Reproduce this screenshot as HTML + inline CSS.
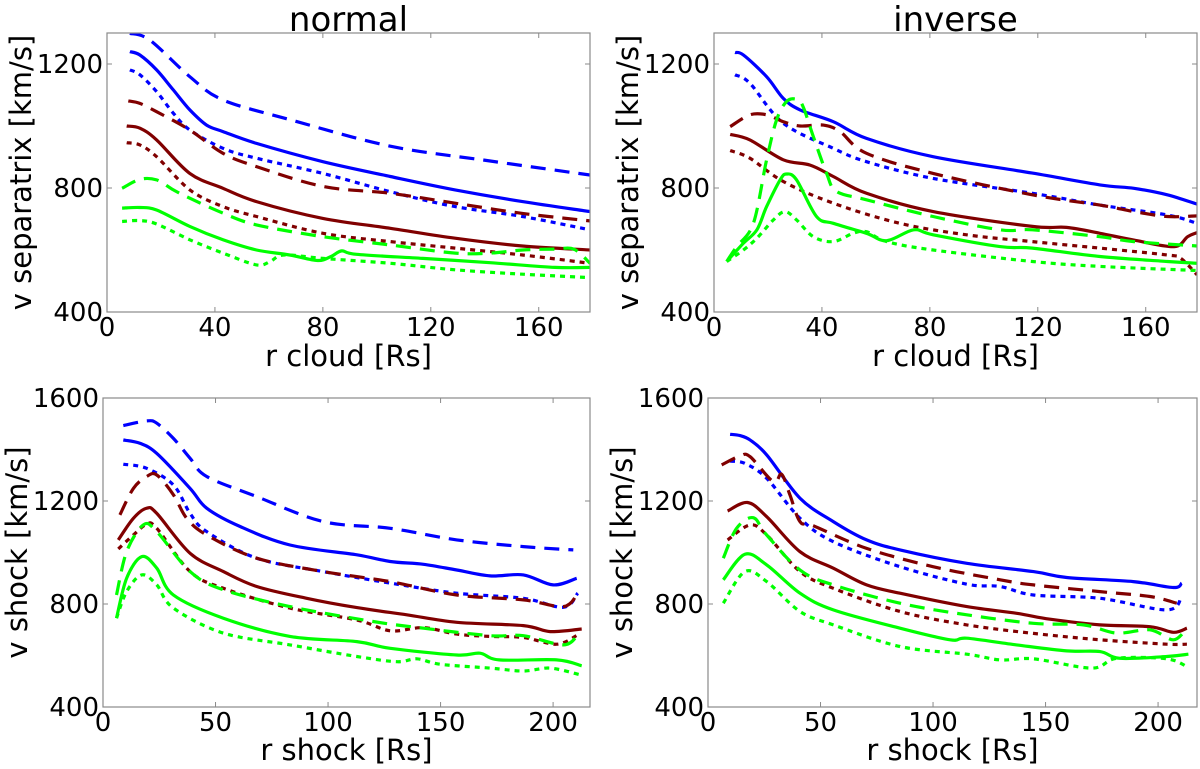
<!DOCTYPE html>
<html><head><meta charset="utf-8"><style>
html,body{margin:0;padding:0;background:#fff;}
svg{display:block;font-family:"DejaVu Sans","Liberation Sans",sans-serif;}
</style></head><body>
<svg id="fig" width="1200" height="769" viewBox="0 0 1200 769" xmlns="http://www.w3.org/2000/svg"></svg>
<script>
// ---- data (x in Rs, v in km/s) ----
const tl_blue_dash=[[8.5,1299],[15.9,1277],[30.7,1159],[43,1084],[68,1020],[105,935],[142,887],[179,842]];
const tl_blue_solid=[[8.5,1240],[12.2,1229],[18.4,1181],[24.6,1116],[30.7,1052],[36.9,1003],[43,982],[55.4,944],[80,885],[105,837],[129,794],[154,756],[179,724]];
const tl_blue_dot=[[8.5,1181],[12.2,1165],[18.4,1111],[24.6,1041],[30.7,987],[43,928],[55.4,896],[80,847],[105,788],[129,740],[154,708],[179,665]];
const tl_red_dash=[[7.9,1081],[12.2,1073],[18.4,1046],[30.7,987],[43,912],[55.4,869],[80,805],[105,783],[129,751],[154,718],[179,694]];
const tl_red_solid=[[7.3,1000],[12.2,993],[18.4,955],[30.7,847],[43,799],[55.4,756],[80,702],[105,670],[129,638],[154,613],[179,600]];
const tl_red_dot=[[7.3,946],[12.2,939],[18.4,901],[30.7,794],[43,740],[55.4,708],[80,654],[105,627],[129,606],[154,584],[179,557]];
const tl_green_dash=[[5.6,799],[12.2,828],[18.4,826],[24.6,794],[30.7,767],[43,719],[55.4,681],[80,643],[105,616],[129,590],[142,590],[154,600],[166,603],[173,603],[179,557]];
const tl_green_solid=[[5.6,735],[12.2,737],[18.4,729],[30.7,676],[43,633],[55.4,600],[67.7,584],[78,566],[83,579],[87,597],[92.5,586],[117,573],[142,559],[166,544],[179,544]];
const tl_green_dot=[[5.6,692],[12.2,695],[18.4,684],[30.7,633],[43,590],[55.4,552],[60.5,563],[65.6,584],[80,573],[105,557],[129,536],[154,522],[179,511]];

const tr_blue_solid=[[7.8,1237],[10.9,1229],[19.5,1159],[25.7,1089],[31.9,1052],[44.2,1014],[56.5,960],[81.2,901],[118,848],[143,810],[155.6,799],[168,778],[179,748]];
const tr_blue_dot=[[7.8,1165],[13.3,1138],[25.7,1009],[44.2,928],[56.5,885],[81.2,831],[118,783],[143,745],[168,713],[179,686]];
const tr_red_dash=[[6,998],[13.3,1036],[19.5,1036],[25.7,1014],[31.9,1000],[40.5,1003],[46.7,982],[56.5,912],[81.2,847],[118,778],[143,745],[155.6,724],[168,708],[179,710]];
const tr_red_solid=[[6,973],[13.3,955],[25.7,891],[35.6,874],[44.2,837],[56.5,783],[81.2,724],[118,676],[130.6,673],[143,654],[155.6,632],[170.5,611],[175.5,643],[179,656]];
const tr_red_dot=[[6,921],[13.3,896],[25.7,821],[44.2,751],[68.9,686],[93.6,649],[118,627],[143,606],[168,584],[173,573],[179,520]];
const tr_green_dash=[[4.7,563],[8.4,611],[14.6,686],[19.5,891],[23.2,1020],[26.9,1079],[30.6,1086],[33,1063],[36.8,966],[41.7,848],[45.4,789],[56.5,762],[81.2,708],[106,665],[118,665],[143,643],[155.6,627],[179,613]];
const tr_green_solid=[[4.7,563],[10.9,622],[15.9,665],[19.5,740],[24.5,826],[26.9,845],[30.6,826],[38,708],[44.2,686],[56.5,654],[64,630],[74,665],[81.2,649],[106,611],[118,606],[143,579],[168,563],[179,557]];
const tr_green_dot=[[4.7,563],[10.9,600],[15.9,638],[22,697],[26.3,724],[30.6,697],[36.8,643],[44.2,627],[51.6,654],[56.5,659],[64,627],[81.2,600],[118,563],[143,547],[179,534]];

const bl_blue_dash=[[9,1493],[19.4,1511],[23.9,1502],[31.3,1443],[38.7,1366],[46.1,1295],[68.3,1217],[97.9,1120],[127.6,1094],[157.2,1049],[186.8,1023],[209,1010]];
const bl_blue_solid=[[9,1437],[16.4,1424],[23.9,1385],[38.7,1249],[46.1,1172],[60.9,1101],[83.1,1029],[112.8,991],[127.6,965],[142.4,954],[157.2,932],[172,909],[186.8,913],[200,874],[210.5,900]];
const bl_blue_dot=[[9,1343],[19.4,1327],[31.3,1262],[38.7,1152],[46.1,1081],[68.3,978],[97.9,926],[127.6,881],[157.2,842],[186.8,822],[204.6,787],[211,842]];
const bl_red_dash=[[7.5,1146],[13.5,1249],[19.4,1295],[23.9,1301],[31.3,1224],[37.2,1133],[46.1,1068],[68.3,978],[97.9,926],[127.6,887],[157.2,835],[186.8,816],[204.6,790],[211,842]];
const bl_red_solid=[[6.8,1049],[13.5,1133],[19.4,1172],[23.9,1152],[38.7,997],[53.5,926],[68.3,868],[90.5,822],[112.8,786],[135,758],[157.2,729],[186.8,716],[198.7,693],[212.7,703]];
const bl_red_dot=[[6.8,1014],[13.5,1068],[19.4,1110],[23.9,1094],[38.7,926],[53.5,861],[83.1,784],[112.8,738],[127.6,696],[142.4,708],[157.2,683],[172,674],[186.8,670],[201.6,644],[211,680]];
const bl_green_dash=[[6,835],[10.5,1003],[17.9,1107],[23.9,1081],[38.7,926],[53.5,855],[83.1,790],[120,732],[142.4,706],[172,677],[186.8,677],[204.6,641],[211,680]];
const bl_green_solid=[[6,745],[10.5,900],[17.2,984],[23.9,939],[31.3,835],[53.5,745],[83.1,674],[112.8,654],[127.6,628],[157.2,602],[167.5,609],[176,583],[201.6,583],[212.7,560]];
const bl_green_dot=[[6,745],[10.5,848],[17.2,913],[23.9,874],[31.3,784],[53.5,687],[83.1,641],[112.8,596],[130.6,576],[139.5,587],[149.9,566],[172,551],[186.8,540],[198.7,551],[212,525]];

const br_blue_solid=[[9.8,1459],[14.2,1454],[18.7,1437],[26.1,1379],[40.9,1211],[55.7,1120],[70.5,1049],[85.3,1010],[115,958],[144.6,926],[159.4,903],[189,887],[206.8,864],[210.5,881]];
const br_blue_dot=[[9.8,1355],[16.4,1346],[26.1,1288],[40.9,1133],[55.7,1042],[85.3,945],[115,877],[129.8,868],[144.6,835],[174.2,822],[203.9,777],[210.5,829]];
const br_red_dash=[[6.1,1340],[14.2,1375],[18.7,1372],[29,1275],[32.7,1304],[36.4,1224],[40.9,1120],[46.8,1104],[70.5,1016],[100,945],[129.8,894],[144.6,874],[174.2,848],[196.4,829],[208.3,803]];
const br_red_solid=[[8.7,1161],[17.6,1194],[26.1,1139],[40.9,1003],[55.7,939],[70.5,874],[85.3,842],[115,790],[137.2,764],[152,741],[174.2,719],[196.4,712],[206.8,690],[212.8,706]];
const br_red_dot=[[8.7,1049],[18.7,1107],[26.1,1068],[40.9,926],[55.7,861],[85.3,771],[115,719],[144.6,686],[174.2,661],[203.9,644],[212.8,644]];
const br_green_dash=[[6.8,978],[12.7,1094],[20.1,1135],[26.1,1068],[40.9,932],[55.7,874],[85.3,803],[115,758],[144.6,725],[166.8,719],[181.6,687],[196.4,700],[206.8,661],[212.8,706]];
const br_green_solid=[[6.8,894],[16.4,993],[26.1,952],[40.9,842],[55.7,777],[85.3,706],[107.6,661],[115,667],[137.2,641],[159.4,618],[174.2,615],[183.1,589],[203.9,596],[213.5,605]];
const br_green_dot=[[6.8,803],[16.4,926],[26.1,887],[40.9,771],[55.7,719],[85.3,635],[115,605],[129.8,583],[144.6,587],[170.5,551],[181.6,589],[203.9,587],[213.5,553]];

const topXTicks=[0,40,80,120,160];
const topYTicks=[400,800,1200];
const botXTicks=[0,50,100,150,200];
const botYTicks=[400,800,1200,1600];

// ---- drawing ----
const NS="http://www.w3.org/2000/svg";
const svg=document.getElementById('fig');
function mk(tag,attrs,parent){const e=document.createElementNS(NS,tag);for(const k in attrs)e.setAttribute(k,attrs[k]);(parent||svg).appendChild(e);return e;}
const COL={blue:'#0000ff',red:'#800000',green:'#00ff00'};
const DASH={solid:'none',dash:'15 9',dot:'5 5'};
function smooth(pts){
  let d='M'+pts[0][0].toFixed(1)+','+pts[0][1].toFixed(1);
  for(let i=0;i<pts.length-1;i++){
    const p0=pts[i-1]||pts[i],p1=pts[i],p2=pts[i+1],p3=pts[i+2]||p2;
    const c1=[p1[0]+(p2[0]-p0[0])/6,p1[1]+(p2[1]-p0[1])/6];
    const c2=[p2[0]-(p3[0]-p1[0])/6,p2[1]-(p3[1]-p1[1])/6];
    d+=' C'+c1[0].toFixed(1)+','+c1[1].toFixed(1)+' '+c2[0].toFixed(1)+','+c2[1].toFixed(1)+' '+p2[0].toFixed(1)+','+p2[1].toFixed(1);
  }
  return d;
}
function panel(cfg){
  const g=mk('g',{});
  
  
  const sx=v=>cfg.x0+(v-cfg.xmin)/(cfg.xmax-cfg.xmin)*(cfg.x1-cfg.x0);
  const sy=v=>cfg.y1-(v-cfg.ymin)/(cfg.ymax-cfg.ymin)*(cfg.y1-cfg.y0);
  const cp=mk('clipPath',{id:'clip-'+cfg.name},g);
  mk('rect',{x:cfg.x0,y:cfg.y0,width:cfg.x1-cfg.x0,height:cfg.y1-cfg.y0},cp);
  const lines=mk('g',{'clip-path':'url(#clip-'+cfg.name+')'},g);
  cfg.series.forEach(s=>{
    const pts=s.data.map(p=>[sx(p[0]),sy(p[1])]);
    const p=mk('path',{d:smooth(pts),fill:'none',stroke:COL[s.c],'stroke-width':3.2,'stroke-dasharray':DASH[s.s],'stroke-linejoin':'round'},lines);
    
    
  });
  const fr=mk('rect',{x:cfg.x0,y:cfg.y0,width:cfg.x1-cfg.x0,height:cfg.y1-cfg.y0,fill:'none',stroke:'#8a8a8a','stroke-width':1.2},g);
  
  
  cfg.xt.forEach(t=>{
    const x=sx(t);
    mk('line',{x1:x,x2:x,y1:cfg.y1,y2:cfg.y1-5,stroke:'#8a8a8a','stroke-width':1},g);
    mk('line',{x1:x,x2:x,y1:cfg.y0,y2:cfg.y0+5,stroke:'#8a8a8a','stroke-width':1},g);
    const tx=mk('text',{x:x,y:cfg.y1+24,'font-size':26,'text-anchor':'middle',fill:'#000'},g);
    tx.textContent=t;
    
    
  });
  cfg.yt.forEach(t=>{
    const y=sy(t);
    mk('line',{x1:cfg.x0,x2:cfg.x0+5,y1:y,y2:y,stroke:'#8a8a8a','stroke-width':1},g);
    mk('line',{x1:cfg.x1,x2:cfg.x1-5,y1:y,y2:y,stroke:'#8a8a8a','stroke-width':1},g);
    const ty=mk('text',{x:cfg.x0-4,y:y+9,'font-size':26,'text-anchor':'end',fill:'#000'},g);
    ty.textContent=t;
    
    
  });
  const xl=mk('text',{x:(cfg.x0+cfg.x1)/2,y:cfg.xly,'font-size':29,'text-anchor':'middle',fill:'#000'},g);
  xl.textContent=cfg.xlabel;
  
  
  const yc=(cfg.y0+cfg.y1)/2, yx=cfg.x0-76;
  const yl=mk('text',{x:yx,y:yc,'font-size':29,'text-anchor':'middle',fill:'#000',transform:'rotate(-90 '+yx+' '+yc+')'},g);
  yl.textContent=cfg.ylabel;
  
  
  if(cfg.title){
    const tt=mk('text',{x:(cfg.x0+cfg.x1)/2,y:31,'font-size':34,'text-anchor':'middle',fill:'#000'},g);
    tt.textContent=cfg.title;
    
    
  }
}
panel({name:'panel-normal-separatrix',x0:107,x1:590,y0:33,y1:312,xmin:0,xmax:179,ymin:400,ymax:1300,xt:topXTicks,yt:topYTicks,xlabel:'r cloud [Rs]',ylabel:'v separatrix [km/s]',xly:366,title:'normal',
 series:[{data:tl_blue_dash,c:'blue',s:'dash'},{data:tl_blue_solid,c:'blue',s:'solid'},{data:tl_blue_dot,c:'blue',s:'dot'},{data:tl_red_dash,c:'red',s:'dash'},{data:tl_red_solid,c:'red',s:'solid'},{data:tl_red_dot,c:'red',s:'dot'},{data:tl_green_dash,c:'green',s:'dash'},{data:tl_green_solid,c:'green',s:'solid'},{data:tl_green_dot,c:'green',s:'dot'}]});
panel({name:'panel-inverse-separatrix',x0:714,x1:1197,y0:33,y1:312,xmin:0,xmax:179,ymin:400,ymax:1300,xt:topXTicks,yt:topYTicks,xlabel:'r cloud [Rs]',ylabel:'v separatrix [km/s]',xly:366,title:'inverse',
 series:[{data:tr_blue_solid,c:'blue',s:'solid'},{data:tr_blue_dot,c:'blue',s:'dot'},{data:tr_red_dash,c:'red',s:'dash'},{data:tr_red_solid,c:'red',s:'solid'},{data:tr_red_dot,c:'red',s:'dot'},{data:tr_green_dash,c:'green',s:'dash'},{data:tr_green_solid,c:'green',s:'solid'},{data:tr_green_dot,c:'green',s:'dot'}]});
panel({name:'panel-normal-shock',x0:103,x1:590,y0:398,y1:707,xmin:0,xmax:216.4,ymin:400,ymax:1600,xt:botXTicks,yt:botYTicks,xlabel:'r shock [Rs]',ylabel:'v shock [km/s]',xly:760,
 series:[{data:bl_blue_dash,c:'blue',s:'dash'},{data:bl_blue_solid,c:'blue',s:'solid'},{data:bl_blue_dot,c:'blue',s:'dot'},{data:bl_red_dash,c:'red',s:'dash'},{data:bl_red_solid,c:'red',s:'solid'},{data:bl_red_dot,c:'red',s:'dot'},{data:bl_green_dash,c:'green',s:'dash'},{data:bl_green_solid,c:'green',s:'solid'},{data:bl_green_dot,c:'green',s:'dot'}]});
panel({name:'panel-inverse-shock',x0:708,x1:1197,y0:398,y1:707,xmin:0,xmax:217.3,ymin:400,ymax:1600,xt:botXTicks,yt:botYTicks,xlabel:'r shock [Rs]',ylabel:'v shock [km/s]',xly:760,
 series:[{data:br_blue_solid,c:'blue',s:'solid'},{data:br_blue_dot,c:'blue',s:'dot'},{data:br_red_dash,c:'red',s:'dash'},{data:br_red_solid,c:'red',s:'solid'},{data:br_red_dot,c:'red',s:'dot'},{data:br_green_dash,c:'green',s:'dash'},{data:br_green_solid,c:'green',s:'solid'},{data:br_green_dot,c:'green',s:'dot'}]});
</script>
</body></html>
